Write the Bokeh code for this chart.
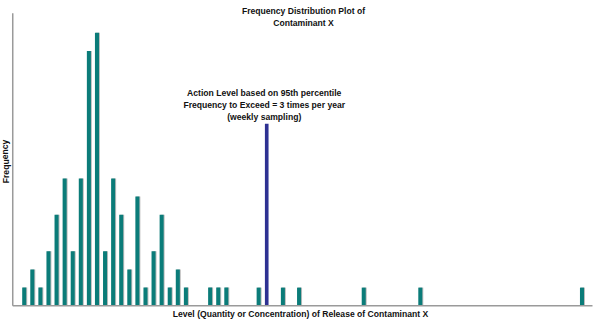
from bokeh.plotting import figure
from bokeh.models import ColumnDataSource, Label
from bokeh.embed import file_html
from bokeh.resources import INLINE

# Data: bin index (level) and frequency
levels = [0, 1, 2, 3, 4, 5, 6, 7, 8, 9, 10, 11, 12, 13, 14, 15, 16, 17, 18, 19, 20,
          23, 24, 25, 29, 32, 34, 42, 49, 69]
freqs = [1, 2, 1, 3, 5, 7, 3, 7, 14, 15, 3, 7, 5, 2, 6, 1, 3, 5, 1, 2, 1,
         1, 1, 1, 1, 1, 1, 1, 1, 1]
action_level = [30]
action_freq = [10]

title_lines = ["Frequency Distribution Plot of", "Contaminant X"]
note_lines = ["Action Level based on 95th percentile",
              "Frequency to Exceed = 3 times per year",
              "(weekly sampling)"]
x_label = "Level (Quantity or Concentration) of Release of Contaminant X"
y_label = "Frequency"

TEAL = "#0b7c79"
BLUE = "#2e3192"
AXIS = "#9a9a9a"
FONT = "Liberation Sans"
FS = "8.6px"

W, H = 595, 326
# axes extents (data units) of the drawn axis lines
X_AX0, X_AX1 = -1.42, 70.3
Y_AX1 = 16.08

p = figure(width=W, height=H, output_backend="svg", toolbar_location=None,
           x_range=(-2.934, 70.672), y_range=(-1.137, 16.775),
           min_border=0)
p.xaxis.visible = False
p.yaxis.visible = False
p.xgrid.visible = False
p.ygrid.visible = False
p.outline_line_color = None
p.background_fill_color = "white"
p.border_fill_color = "white"

src = ColumnDataSource(dict(x=levels, top=freqs))
src_shadow = ColumnDataSource(dict(x=[v + 0.12 for v in levels], top=freqs))
p.vbar(x="x", top="top", width=0.5, source=src_shadow, fill_color="#bdbdbd", line_color=None)
p.vbar(x="x", top="top", width=0.5, source=src, fill_color=TEAL, line_color=None)

asrc = ColumnDataSource(dict(x=action_level, top=action_freq))
p.vbar(x="x", top="top", width=0.45, source=asrc, fill_color=BLUE, line_color=None)

# axis lines
p.line([X_AX0, X_AX1], [0, 0], line_color=AXIS, line_width=1.5)
p.line([X_AX0, X_AX0], [0, Y_AX1], line_color=AXIS, line_width=1.5)

style = dict(text_align="center", text_baseline="middle", text_font=FONT,
             text_font_style="bold", text_font_size=FS, text_color="#111111")

# title
for i, t in enumerate(title_lines):
    p.add_layout(Label(x=303, y=H - (10 + 12 * i), x_units="screen", y_units="screen",
                       text=t, **style))

# annotation above the action level bar
for i, t in enumerate(note_lines):
    p.add_layout(Label(x=action_level[0], y=H - (92 + 12 * i), x_units="data", y_units="screen",
                       x_offset=-2.5, text=t, **style))

# axis labels
p.add_layout(Label(x=300, y=H - 313, x_units="screen", y_units="screen",
                   text=x_label, **style))
p.add_layout(Label(x=5, y=H - 161, x_units="screen", y_units="screen",
                   text=y_label, angle=1.5708, **style))

open("out.html", "w").write(file_html(p, INLINE))
